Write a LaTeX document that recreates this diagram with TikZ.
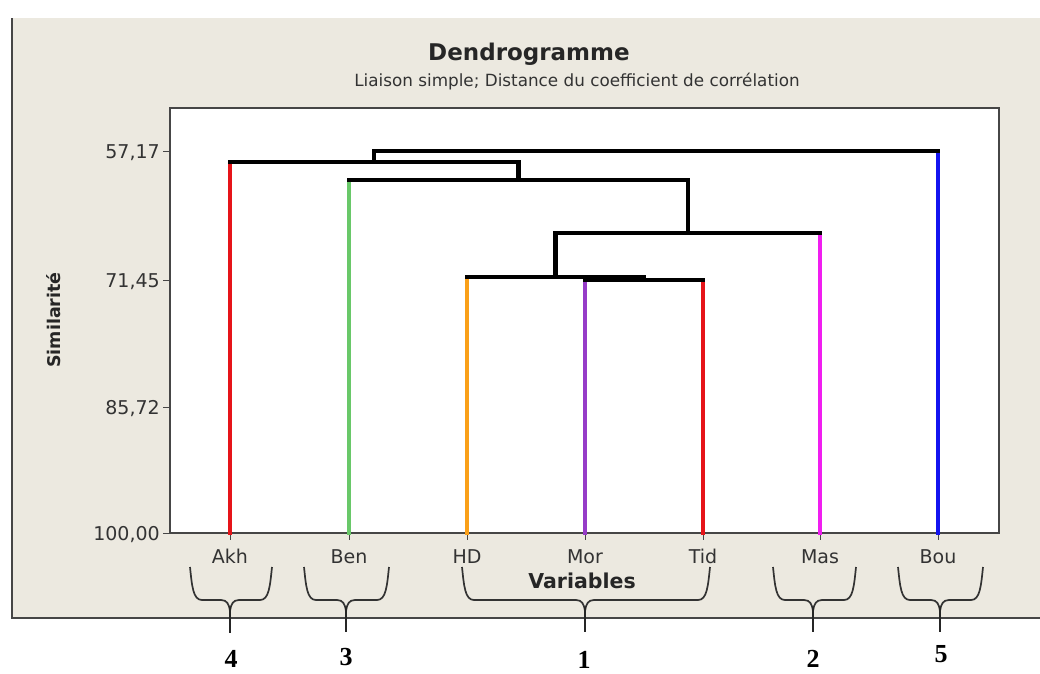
\documentclass[tikz,border=0pt]{standalone}
\usepackage{fontspec}
\setmainfont{DejaVu Sans}
\newfontfamily\numfont{Liberation Serif}
\usetikzlibrary{calc}
\definecolor{panel}{RGB}{236,233,224}
\definecolor{frame}{RGB}{70,70,70}
\definecolor{cAkh}{RGB}{230,20,25}
\definecolor{cBen}{RGB}{105,200,105}
\definecolor{cHD}{RGB}{250,160,25}
\definecolor{cMor}{RGB}{150,60,200}
\definecolor{cTid}{RGB}{230,20,25}
\definecolor{cMas}{RGB}{240,30,240}
\definecolor{cBou}{RGB}{20,20,240}
\tikzset{
  leafline/.style={line width=4.2pt, line cap=rect},
  barline/.style={line width=4.4pt, black, line cap=rect},
  tickline/.style={line width=1pt, frame},
  ticklab/.style={anchor=base east, inner sep=0pt, font=\fontsize{19}{19}\selectfont, text=black!80},
  leaflab/.style={anchor=base, inner sep=0pt, font=\fontsize{19}{19}\selectfont, text=black!80},
  bracepath/.style={line width=1.7pt, draw=black!80},
  stempath/.style={line width=2.8pt, draw=black!85},
  grpnum/.style={anchor=base, inner sep=0pt, font=\numfont\bfseries\fontsize{26}{26}\selectfont},
}
\newcommand{\grpbrace}[4]{%
  \draw[bracepath] (#1,567) .. controls (#1+2,586) and (#1+3,600) .. (#1+12,600)
    -- (#2-9,600) .. controls (#2-3,600) and (#2-1,604) .. (#2,611)
    .. controls (#2+1,604) and (#2+3,600) .. (#2+9,600)
    -- (#3-12,600) .. controls (#3-3,600) and (#3-2,586) .. (#3,567);
  \draw[stempath] (#2,607) -- (#2,#4);
}
\begin{document}
\begin{tikzpicture}[x=1pt,y=-1pt]
\useasboundingbox (0,0) rectangle (1040,673);
% panel
\fill[panel] (12,18) rectangle (1040,618);
\draw[line width=1.3pt, frame] (12,18) -- (12,618) -- (1040,618);
% titles
\node[anchor=base, inner sep=0pt, font=\bfseries\fontsize{23}{23}\selectfont, text=black!85] (title) at (529,60) {Dendrogramme};
\node[anchor=base, inner sep=0pt, font=\fontsize{16.8}{17}\selectfont, text=black!80] (subtitle) at (577,86) {Liaison simple; Distance du coefficient de corrélation};
% plot box
\draw[draw=frame, fill=white, line width=1.2pt] (170,108) rectangle (999,533);
% y axis ticks and labels
\foreach \yy/\lab in {151/{57,17}, 280/{71,45}, 407/{85,72}, 533/{100,00}}{
  \draw[tickline] (163,\yy) -- (170,\yy);
  \node[ticklab] at (160,\yy+7) {\lab};
}
\node[rotate=90, inner sep=0pt, font=\bfseries\fontsize{17.5}{17.5}\selectfont, text=black!85] (ylab) at (54,320) {Similarité};
% leaves
\coordinate (akh) at (230,533);
\coordinate (ben) at (349,533);
\coordinate (hd)  at (467,533);
\coordinate (mor) at (585,533);
\coordinate (tid) at (703,533);
\coordinate (mas) at (820,533);
\coordinate (bou) at (938,533);
% merge levels
\coordinate (yMT) at (0,280);
\coordinate (yH)  at (0,277);
\coordinate (yM)  at (0,233);
\coordinate (yB)  at (0,180);
\coordinate (yA)  at (0,162);
\coordinate (yO)  at (0,151);
% x ticks and labels
\foreach \p/\t in {akh/Akh, ben/Ben, hd/HD, mor/Mor, tid/Tid, mas/Mas, bou/Bou}{
  \draw[tickline] (\p) -- ++(0,7);
  \node[leaflab] (lab\p) at ($(\p)+(0,30)$) {\t};
}
\node[anchor=base, inner sep=0pt, font=\bfseries\fontsize{20.5}{20.5}\selectfont, text=black!85] (xlab) at (582,588) {Variables};
% coloured leaf lines
\draw[leafline, cAkh] (akh) -- (akh |- yA);
\draw[leafline, cBen] (ben) -- (ben |- yB);
\draw[leafline, cHD]  (hd)  -- (hd |- yH);
\draw[leafline, cMor] (mor) -- (mor |- yMT);
\draw[leafline, cTid] (tid) -- (tid |- yMT);
\draw[leafline, cMas] (mas) -- (mas |- yM);
\draw[leafline, cBou] (bou) -- (bou |- yO);
% merges
\coordinate (nMT) at ($(mor |- yMT)!0.5!(tid |- yMT)$);
\draw[barline] (mor |- yMT) -- (tid |- yMT);
\draw[barline] (nMT) -- (nMT |- yH);
\coordinate (nH) at ($(hd |- yH)!0.5!(nMT |- yH)$);
\draw[barline] (hd |- yH) -- (nMT |- yH);
\draw[barline] (nH) -- (nH |- yM);
\coordinate (nM) at ($(nH |- yM)!0.5!(mas |- yM)$);
\draw[barline] (nH |- yM) -- (mas |- yM);
\draw[barline] (nM) -- (nM |- yB);
\coordinate (nB) at ($(ben |- yB)!0.5!(nM |- yB)$);
\draw[barline] (ben |- yB) -- (nM |- yB);
\draw[barline] (nB) -- (nB |- yA);
\coordinate (nA) at ($(akh |- yA)!0.5!(nB |- yA)$);
\draw[barline] (akh |- yA) -- (nB |- yA);
\draw[barline] (nA) -- (nA |- yO);
\draw[barline] (nA |- yO) -- (bou |- yO);
% group braces
\grpbrace{190}{230}{272}{633}
\grpbrace{304}{346}{389}{632}
\grpbrace{462}{585}{710}{632}
\grpbrace{773}{813}{856}{632}
\grpbrace{898}{940}{983}{632}
% group numbers
\node[grpnum] (g4) at (231,667) {4};
\node[grpnum] (g3) at (346,665) {3};
\node[grpnum] (g1) at (584,668) {1};
\node[grpnum] (g2) at (813,667) {2};
\node[grpnum] (g5) at (941,662) {5};
\end{tikzpicture}
\end{document}
